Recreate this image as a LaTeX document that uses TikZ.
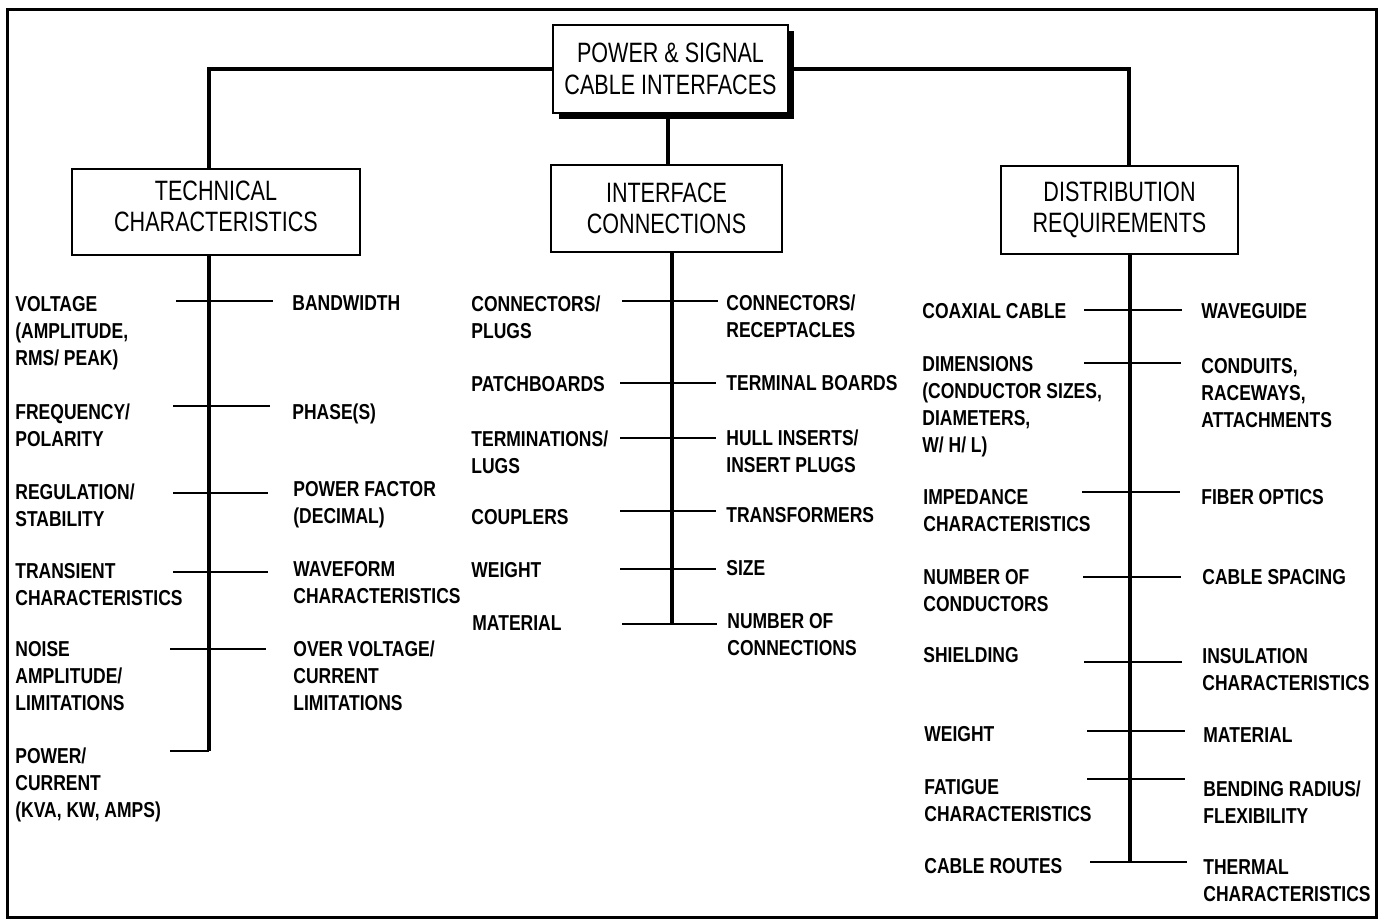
\documentclass[tikz,border=0pt]{standalone}
\usepackage{fontspec}
\setmainfont{Liberation Sans}
\newfontfamily\itemfont{Liberation Sans}[FakeStretch=0.81]
\newfontfamily\boxfont{Liberation Sans}[FakeStretch=0.77]
\usetikzlibrary{shadows,calc}
\begin{document}
\begin{tikzpicture}[x=0.5pt,y=-0.5pt,
  lbl/.style={anchor=north west, inner sep=0pt, align=left,
    font={\itemfont\bfseries\fontsize{10.8pt}{13.4pt}\selectfont}},
  box/.style={draw, line width=1pt, fill=white, align=center, inner sep=0pt,
    font={\boxfont\fontsize{14pt}{15.75pt}\selectfont}},
  stem/.style={line width=2pt},
  branch/.style={line width=1pt},
  frame/.style={line width=1.5pt}]
\useasboundingbox (0,0) rectangle (1378,921);
\draw[frame] (7,9) rectangle (1376,917);

% boxes
\node[box, minimum width=117.5pt, minimum height=44pt,
  general shadow={fill=black, shadow xshift=3pt, shadow yshift=-3pt}]
  (top) at (670.5,69) {POWER \& SIGNAL\\CABLE INTERFACES};
\node[box, minimum width=144pt, minimum height=43pt, text depth=6pt] (tech) at (216,212) {TECHNICAL\\CHARACTERISTICS};
\node[box, minimum width=115.5pt, minimum height=43.5pt] (iface) at (666.5,208.5) {INTERFACE\\CONNECTIONS};
\node[box, minimum width=118.5pt, minimum height=44pt] (dist) at (1119.5,210) {DISTRIBUTION\\REQUIREMENTS};

% trunk connectors
\draw[stem] (top.west) -| ([xshift=-3.5pt]tech.north);
\draw[stem] (top.east) -| ([xshift=4.5pt]dist.north);
\draw[stem] ([xshift=-1.25pt]top.south) -- ([xshift=-1.25pt]top.south |- iface.north);

% stems
\draw[stem] ([xshift=-3.5pt]tech.south) -- ([xshift=-3.5pt]tech.south |- 0,751) coordinate (tend);
\draw[stem] ([xshift=2.75pt]iface.south) -- ([xshift=2.75pt]iface.south |- 0,624) coordinate (iend);
\draw[stem] ([xshift=5.25pt]dist.south) -- ([xshift=5.25pt]dist.south |- 0,862) coordinate (dend);

% branches
\foreach \y/\a/\b in {301/176/273, 406/173/270, 493/173/268, 572/173/268, 649/170/266, 751/170/209}
  \draw[branch] (\a,\y) -- (\b,\y);
\foreach \y/\a/\b in {301/622/718, 383/620/716, 438/620/716, 511/620/716, 569/620/716, 624/622/717}
  \draw[branch] (\a,\y) -- (\b,\y);
\foreach \y/\a/\b in {310/1084/1182, 363/1084/1181, 492/1082/1180, 577/1083/1181, 662/1084/1182, 731/1087/1185, 779/1087/1185, 862/1090/1187}
  \draw[branch] (\a,\y) -- (\b,\y);

% technical labels
\node[lbl] (vol) at (15,296.5) {VOLTAGE\\(AMPLITUDE,\\RMS/ PEAK)};
\node[lbl] (freq) at (15,403.5) {FREQUENCY/\\POLARITY};
\node[lbl] (reg) at (15,483.5) {REGULATION/\\STABILITY};
\node[lbl] (tran) at (15,563.5) {TRANSIENT\\CHARACTERISTICS};
\node[lbl] (noise) at (15,641.5) {NOISE\\AMPLITUDE/\\LIMITATIONS};
\node[lbl] (pow) at (15,747.5) {POWER/\\CURRENT\\(KVA, KW, AMPS)};
\node[lbl] (bw) at (292,295.5) {BANDWIDTH};
\node[lbl] (phase) at (292,403.5) {PHASE(S)};
\node[lbl] (pf) at (293,481.5) {POWER FACTOR\\(DECIMAL)};
\node[lbl] (wave) at (293,561.5) {WAVEFORM\\CHARACTERISTICS};
\node[lbl] (over) at (293,640.5) {OVER VOLTAGE/\\CURRENT\\LIMITATIONS};

% interface labels
\node[lbl] (conn) at (471,295.5) {CONNECTORS/\\PLUGS};
\node[lbl] (patch) at (471,376.5) {PATCHBOARDS};
\node[lbl] (term) at (471,430.5) {TERMINATIONS/\\LUGS};
\node[lbl] (coup) at (471,509.5) {COUPLERS};
\node[lbl] (wt) at (471,562.5) {WEIGHT};
\node[lbl] (mat) at (472,615.5) {MATERIAL};
\node[lbl] (recep) at (726,294.5) {CONNECTORS/\\RECEPTACLES};
\node[lbl] (tb) at (726,375.5) {TERMINAL BOARDS};
\node[lbl] (hull) at (726,429.5) {HULL INSERTS/\\INSERT PLUGS};
\node[lbl] (trans) at (726,507.5) {TRANSFORMERS};
\node[lbl] (size) at (726,560.5) {SIZE};
\node[lbl] (numc) at (727,613.5) {NUMBER OF\\CONNECTIONS};

% distribution labels
\node[lbl] (coax) at (922,303.5) {COAXIAL CABLE};
\node[lbl] (dim) at (922,356.5) {DIMENSIONS\\(CONDUCTOR SIZES,\\DIAMETERS,\\W/ H/ L)};
\node[lbl] (imp) at (923,489.5) {IMPEDANCE\\CHARACTERISTICS};
\node[lbl] (numcond) at (923,569.5) {NUMBER OF\\CONDUCTORS};
\node[lbl] (shield) at (923,647.5) {SHIELDING};
\node[lbl] (wt2) at (924,726.5) {WEIGHT};
\node[lbl] (fat) at (924,779.5) {FATIGUE\\CHARACTERISTICS};
\node[lbl] (routes) at (924,858.5) {CABLE ROUTES};
\node[lbl] (wg) at (1201,303.5) {WAVEGUIDE};
\node[lbl] (cond) at (1201,358.5) {CONDUITS,\\RACEWAYS,\\ATTACHMENTS};
\node[lbl] (fiber) at (1201,489.5) {FIBER OPTICS};
\node[lbl] (spacing) at (1202,569.5) {CABLE SPACING};
\node[lbl] (insul) at (1202,648.5) {INSULATION\\CHARACTERISTICS};
\node[lbl] (mat2) at (1203,727.5) {MATERIAL};
\node[lbl] (bend) at (1203,780.5) {BENDING RADIUS/\\FLEXIBILITY};
\node[lbl] (therm) at (1203,859.5) {THERMAL\\CHARACTERISTICS};
\end{tikzpicture}
\end{document}
